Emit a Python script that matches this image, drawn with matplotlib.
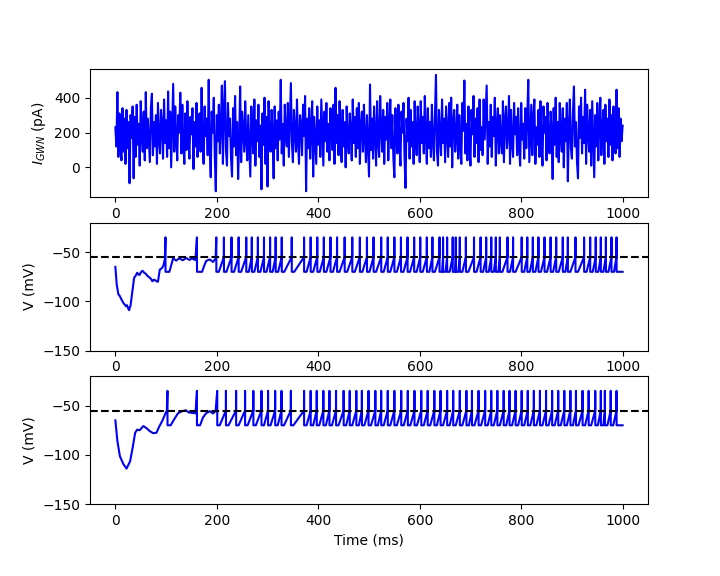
import matplotlib
matplotlib.use('Agg')
import matplotlib.pyplot as plt
import numpy as np

# Gaussian white noise current (pA), one sample every 2 ms (one row = 20 ms)
dt_noise = 2.0
I_gwn = [230, 120, 432, 60, 310, 150, 40, 340, 90, 280,
         20, 330, 110, 260, -91, 300, 170, 350, -63, 290,
         60, 360, 130, 250, 10, 380, 200, 90, 320, 40,
         432, 110, 280, 150, 30, 340, 423, 70, 260, 120,
         300, 20, 370, 160, 80, 330, 240, 50, 390, 140,
         270, 60, 436, 110, 320, 0, 230, 480, 90, 350,
         170, 40, 300, 200, 429, 80, 360, 130, 20, 310,
         100, 380, 150, 50, 290, 190, 340, -10, 260, 120,
         370, 60, 230, 310, 90, 457, 140, 20, 350, 180,
         280, 70, 503, 110, -57, 320, 200, 400, 60, -137,
         300, 150, 360, 80, 250, 470, 20, 330, 495, 100,
         10, 370, 180, 280, 50, -53, 340, 120, 410, 70,
         260, -67, 140, 465, 30, 320, 210, 90, 380, 160,
         40, 300, 120, -53, 350, 190, 80, 390, 10, 270,
         150, 360, 60, 240, -126, 310, 130, 400, 20, 290,
         -110, 380, 170, 90, 330, 200, -63, 350, 110, 270,
         40, 320, 160, 503, 80, 250, 10, 360, 190, 120,
         370, 60, 280, 484, 140, 30, 330, 200, 90, 390,
         150, 20, 300, 240, 70, 360, 180, 410, -137, 280,
         110, 340, 50, 230, 380, -53, 290, 160, 20, 350,
         130, 270, 60, 390, 200, 10, 320, 150, 370, 90,
         250, 40, 340, 180, 100, 360, 20, 457, 140, 300,
         70, 380, 190, 30, 330, 120, 260, 0, 350, 160,
         80, 310, 210, 40, 390, 140, 290, 60, 340, 110,
         370, 20, 240, 320, 90, 360, 170, 30, 300, 130,
         -53, 476, 100, 280, 50, 350, 190, 10, 380, 150,
         60, 410, 220, 90, 330, 20, 290, 160, 370, 40,
         250, 390, 110, 300, 60, -57, 340, 180, 80, 360,
         140, 10, 320, 200, 370, 60, -118, 280, 150, 400,
         50, 330, 120, 260, 20, 380, 170, 70, 350, 210,
         30, 380, 140, 290, 80, 410, 190, 20, 340, 110,
         260, 60, 360, 150, 40, 300, 531, 90, 10, 330,
         190, 70, 390, 140, 280, 30, 350, 200, 60, 370,
         120, 400, 0, 260, 330, 90, 180, 360, 50, 300,
         150, 20, 370, 210, 499, 80, 250, 40, 350, 130,
         10, 330, 190, 410, 60, 280, 140, 340, 30, 390,
         100, 230, 70, 390, 160, 310, 470, 20, 260, 120,
         360, 60, 290, 180, 400, 10, 240, 340, 80, 300,
         150, 80, 380, 30, 270, 350, 110, 200, 410, 20,
         330, 140, 60, 370, 190, 290, 70, 340, 120, 10,
         370, 160, 250, 50, 340, 110, 290, 503, 30, 200,
         360, 70, 280, 390, 20, 230, 130, 330, 60, 380,
         140, 10, 350, 200, 290, 40, 370, 160, 80, 320,
         220, -67, 340, 130, 400, 60, 260, 30, 370, 180,
         90, 340, 0, 280, 150, 370, -80, 230, 390, 110,
         50, 310, 465, 120, 260, 30, -63, 350, 170, 400,
         80, 290, 140, 446, 20, 360, 200, 90, 330, 10,
         380, 160, -57, 300, 120, 370, 40, 250, 400, 70,
         210, 330, 20, 360, 150, 280, 60, 390, 130, 300,
         40, 350, 180, 80, 446, 110, 340, 60, 280, 150,
         240]

# neuron levels (mV)
V_th = -55.
V_reset = -70.
V_peak = -35.
t_ref = 5.
T = 1000.

# middle panel: noisy input
mid_spikes = [98.8, 160.8, 199, 214, 229, 243, 258, 269, 281, 293, 305, 316, 328,
              347.7, 372, 385, 398, 411, 424, 437, 452, 467, 482, 496, 509, 524,
              537, 550, 563, 576, 589, 601, 614, 625, 639, 646, 654, 665, 671,
              679, 691, 707, 720, 731, 741, 750, 758, 773, 784, 801, 812, 823,
              834, 846, 858, 869, 882, 892, 907, 924, 936, 947, 957, 967, 978, 988]
mid_sub_t = [0, 2.7, 6, 8, 10.5, 13, 15.7, 18, 21, 23, 25.5, 27, 30, 33.4, 37, 40,
             43, 46, 48, 51, 53.7, 57, 60, 63, 66.7, 70, 73, 76, 80, 82, 84, 87.6,
             90, 93, 95, 97.5,
             102, 106.5, 113.7, 117, 120, 124, 127, 130, 133, 137, 140, 143, 146,
             149, 152.5, 155, 157.8,
             164, 171, 175, 179, 183, 186, 189, 192.5, 197.6]
mid_sub_v = [-65, -83, -93, -94, -96.6, -99, -101.7, -103, -105, -104, -107.5, -109,
             -104, -90, -76, -74, -71, -73, -73, -70, -69, -71, -72, -74, -75.5,
             -77, -79.6, -78, -79, -80, -80, -67.7, -67, -65.5, -63, -57.5,
             -70, -70, -56.5, -57.5, -58.6, -57, -56.5, -57.5, -58.2, -57, -56,
             -57, -58, -57, -56.5, -57.5, -58,
             -70, -70, -64, -59, -58, -57.5, -58.5, -60, -56.5]

# bottom panel: same input, smoother trace
bot_spikes = [102.7, 160.8, 200.8, 218, 238, 255.7, 272, 288, 301, 315, 327.5,
              346, 372, 385, 397, 410, 422, 435, 450, 462, 475, 486, 499, 512.5,
              524, 537, 550, 563.5, 576.5, 589.6, 603, 615.7, 628.8, 641, 654,
              666, 679, 692, 703, 716, 729, 741, 753, 765.5, 777, 789, 801, 813,
              825, 837, 849, 861, 873, 885, 897, 908, 921, 933, 946, 957, 965,
              976.5, 988]
bot_sub_t = [0, 4, 9, 15.7, 22, 29, 34, 39, 43, 48, 55, 61.6, 68, 74.5, 81, 86,
             93, 98, 101.5,
             109, 117, 123.5, 130, 138.6, 145, 158,
             167, 172.5, 179, 186, 192.5, 197.6]
bot_sub_v = [-65, -86, -101.5, -109.4, -114, -106.7, -93, -77.6, -74.5, -75, -70.8,
             -73, -76, -78, -77.6, -71.8, -65, -58.8, -55,
             -70, -63, -57.8, -56, -54.7, -57, -57.8,
             -70, -62.3, -57.7, -55.7, -58, -55.5]


# join subthreshold points and spikes into one voltage trace
def build_trace(spikes, sub_t, sub_v):
    t_out, v_out = [], []
    prev = None
    for ts in spikes:
        lo = -1. if prev is None else prev
        seg = [(a, b) for a, b in zip(sub_t, sub_v) if lo < a < ts]
        if prev is not None:
            t_out += [prev + 0.1]
            v_out += [V_reset]
            if not seg:
                t_out += [prev + t_ref, ts - 0.1]
                v_out += [V_reset, V_th]
        for a, b in seg:
            t_out.append(a)
            v_out.append(b)
        t_out.append(ts)
        v_out.append(V_peak)
        prev = ts
    t_out += [prev + 0.1, T]
    v_out += [V_reset, V_reset]
    return np.array(t_out), np.array(v_out)


t_noise = np.arange(len(I_gwn)) * dt_noise
t_mid, v_mid = build_trace(mid_spikes, mid_sub_t, mid_sub_v)
t_bot, v_bot = build_trace(bot_spikes, bot_sub_t, bot_sub_v)

fig = plt.figure(figsize=(7.2, 5.76), dpi=100)

ax1 = plt.subplot(3, 1, 1)
ax1.plot(t_noise, I_gwn, 'b')
ax1.set_xlabel('Time (ms)')
ax1.set_ylabel(r'$I_{GWN}$ (pA)')

ax2 = plt.subplot(3, 1, 2)
ax2.plot(t_mid, v_mid, 'b')
ax2.axhline(V_th, 0, 1, color='k', ls='--')
ax2.set_xlabel('Time (ms)')
ax2.set_ylabel('V (mV)')
ax2.set_ylim(-150, -20)

ax3 = plt.subplot(3, 1, 3)
ax3.plot(t_bot, v_bot, 'b')
ax3.axhline(V_th, 0, 1, color='k', ls='--')
ax3.set_xlabel('Time (ms)')
ax3.set_ylabel('V (mV)')
ax3.set_ylim(-150, -20)

plt.subplots_adjust(bottom=0.125)
plt.savefig('out.png')
